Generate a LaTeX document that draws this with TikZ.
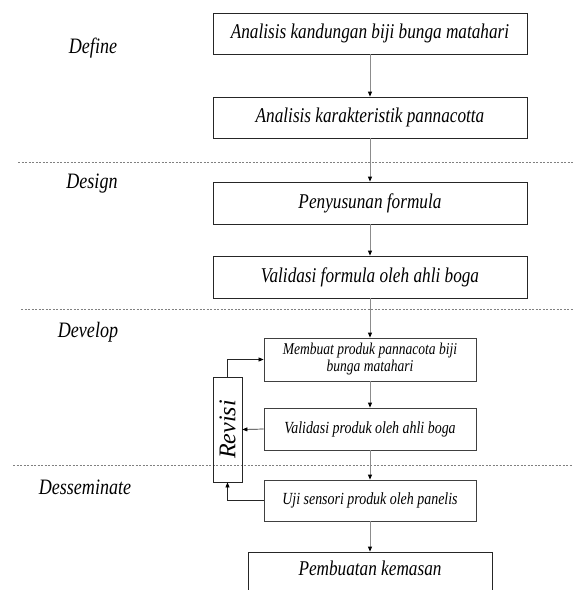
\documentclass[tikz,border=0pt]{standalone}
\usepackage{fontspec}
\setmainfont{Liberation Serif}[FakeStretch=0.82]
\newfontfamily\revfont{Liberation Serif}
\usetikzlibrary{arrows.meta}

\begin{document}
\begin{tikzpicture}[x=1pt,y=-1pt,
    tip/.style={-{Triangle[length=5pt,width=4pt,black]}},
    flow/.style={draw=gray!90,line width=0.9pt,tip},
    back/.style={draw=black!85,line width=0.7pt,tip},
    sep/.style={draw=gray,line width=0.7pt,dash pattern=on 2pt off 1.5pt}]
\useasboundingbox (0,0) rectangle (573,590);
\clip (0,0) rectangle (573,590);

% stages
\begin{scope}[every node/.style={font=\fontsize{22}{24}\selectfont\itshape}]
    \node (def) at (93,48) {Define};
    \node (des) at (92,184) {Design};
    \node (dev) at (88,332) {Develop};
    \node (dis) at (85,487) {Desseminate};
\end{scope}

\draw[sep] (18,162) -- (573,162);
\draw[sep] (21,309) -- (573,309);
\draw[sep] (13,465) -- (573,465);

% big boxes
\begin{scope}[every node/.style={draw=black!85,line width=0.8pt,minimum width=314pt,
        font=\fontsize{21}{23}\selectfont\itshape,inner sep=0pt}]
    \node[minimum height=41pt] (1) at (370,33.5) {Analisis kandungan biji bunga matahari};
    \node[minimum height=41pt] (2) at (370,117.5) {Analisis karakteristik pannacotta};
    \node[minimum height=42pt] (3) at (370,203) {Penyusunan formula};
    \node[minimum height=42pt] (4) at (370,277) {Validasi formula oleh ahli boga};
    \node[minimum width=244pt,minimum height=60pt,text depth=28pt] (8) at (370,582) {Pembuatan kemasan};
\end{scope}

% small boxes
\begin{scope}[every node/.style={draw=black!75,line width=0.8pt,minimum width=212pt,
        font=\fontsize{17}{18}\selectfont\itshape,inner sep=0pt,align=center}]
    \node[minimum height=43pt,font=\fontsize{16.5}{17}\selectfont\itshape] (5) at (370,359.5) {Membuat produk pannacota biji\\bunga matahari};
    \node[minimum height=42pt] (6) at (370,429) {Validasi produk oleh ahli boga};
    \node[minimum height=41pt] (7) at (370,500.5) {Uji sensori produk oleh panelis};
\end{scope}

\node[draw=black!85,line width=0.8pt,minimum width=105pt,minimum height=29pt,inner sep=0pt,
    rotate=90,font=\revfont\fontsize{24}{25}\selectfont\itshape] (rev) at (227.5,429.5) {Revisi};

\draw[flow] (1) -- (2);
\draw[flow] (2) -- (3);
\draw[flow] (3) -- (4);
\draw[flow] (4) -- (5);
\draw[flow] (5) -- (6);
\draw[flow] (6) -- (7);
\draw[flow] (7) -- (8);

\draw[back] (6.west) -- (rev.south);
\draw[back] (7.west) -| (rev.west);
\draw[back] (rev.east) |- (5.west);
\end{tikzpicture}
\end{document}
